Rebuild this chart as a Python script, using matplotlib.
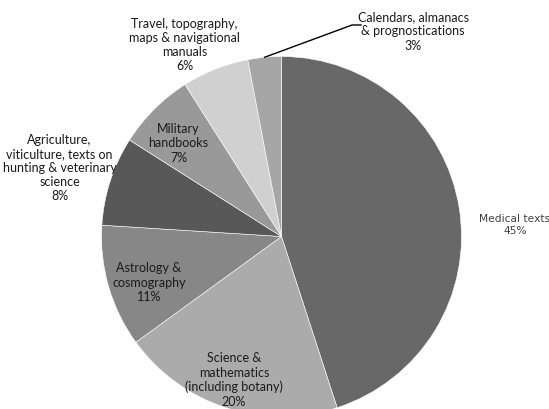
import numpy as np
import matplotlib.pyplot as plt

categories = [
    "Medical texts",
    "Science &\nmathematics\n(including botany)",
    "Astrology &\ncosmography",
    "Agriculture,\nviticulture, texts on\nhunting & veterinary\nscience",
    "Military\nhandbooks",
    "Travel, topography,\nmaps & navigational\nmanuals",
    "Calendars, almanacs\n& prognostications",
]
shares = [45, 20, 11, 8, 7, 6, 3]
colors = ["#686868", "#ababab", "#878787", "#585858", "#999999", "#d0d0d0", "#a6a6a6"]

# label centres in pie units (radius = 1)
label_pos = [(1.297, 0.064), (-0.264, -0.797), (-0.736, -0.256), (-1.233, 0.381),
             (-0.572, 0.517), (-0.539, 1.064), (0.731, 1.139)]

fig = plt.figure(figsize=(5.49, 4.09), dpi=100)
ax = fig.add_axes([0, 0, 1, 1])

wedges, _ = ax.pie(shares, colors=colors, startangle=90, counterclock=False,
                   radius=1, wedgeprops=dict(edgecolor="white", linewidth=0.4))

for i, (name, val) in enumerate(zip(categories, shares)):
    x, y = label_pos[i]
    text = f"{name}\n{val}%"
    if i == 0:
        ax.text(x, y, text, ha="center", va="center", fontsize=7.7,
                family="DejaVu Sans", color="#404040", linespacing=1.25)
    else:
        ax.text(x, y, text, ha="center", va="center", fontsize=9,
                family="Lato", color="#1a1a1a", linespacing=1.22)

# leader line for the smallest slice
w = wedges[-1]
mid = np.deg2rad((w.theta1 + w.theta2) / 2)
ax.plot([np.cos(mid), 0.392, 0.442], [np.sin(mid), 1.175, 1.175],
        color="black", linewidth=1)

ax.set_xlim(-281.5 / 180, (549 - 281.5) / 180)
ax.set_ylim((236.5 - 409) / 180, 236.5 / 180)
ax.set_aspect("equal")
ax.axis("off")

plt.savefig("out.png", dpi=100)
